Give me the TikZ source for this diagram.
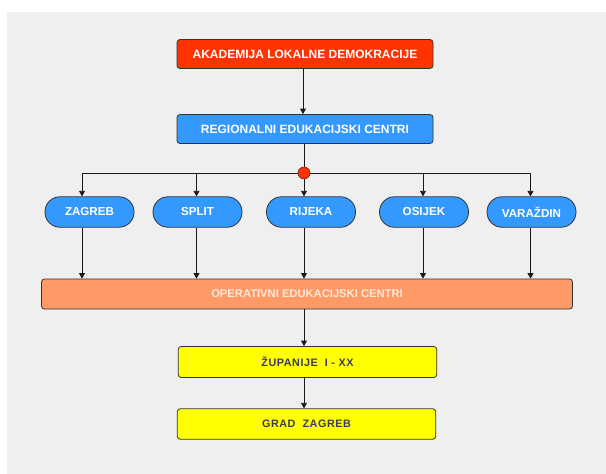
\documentclass[tikz,border=0pt]{standalone}
\usepackage{fontspec}
\setmainfont{Liberation Sans}
\usetikzlibrary{arrows.meta}
\definecolor{bggrey}{HTML}{EFEFEF}
\definecolor{redbox}{HTML}{FF3300}
\definecolor{bluebox}{HTML}{3399FF}
\definecolor{orangebox}{HTML}{FF9966}
\definecolor{yellowbox}{HTML}{FFFF00}
\definecolor{edge}{HTML}{333333}
\definecolor{ytext}{HTML}{3A3A5C}
\definecolor{otext}{HTML}{FFEADC}
\tikzset{
  box/.style={draw=edge, line width=0.8pt, rounded corners=3pt, inner sep=0pt,
    font=\fontsize{12}{14}\selectfont\bfseries, text=white},
  pill/.style={draw=edge, line width=0.8pt, rounded corners=15pt, fill=bluebox,
    minimum width=89pt, minimum height=30.5pt, inner sep=0pt,
    font=\fontsize{11.6}{14}\selectfont\bfseries, text=white},
  ybox/.style={box, fill=yellowbox, minimum width=258.5pt, minimum height=31pt,
    text=ytext, font=\fontsize{10.8}{14}\selectfont\bfseries\addfontfeature{LetterSpace=5}},
  conn/.style={draw=black!90, line width=0.8pt},
  arr/.style={conn, -{Triangle[width=6pt,length=5.5pt]}}
}
\begin{document}
\begin{tikzpicture}[x=1pt,y=-1pt]
\useasboundingbox (0,0) rectangle (606,474);
\fill[white] (0,0) rectangle (606,474);
\fill[bggrey] (7,12) rectangle (606,474);

\node[box, fill=redbox, minimum width=256pt, minimum height=29pt] (ald) at (305,54) {AKADEMIJA LOKALNE DEMOKRACIJE};
\node[box, fill=bluebox, minimum width=256pt, minimum height=29pt] (rec) at (305,129) {REGIONALNI EDUKACIJSKI CENTRI};

\node[pill] (zg) at (89.5,212) {ZAGREB};
\node[pill] (st) at (197.5,212) {SPLIT};
\node[pill] (ri) at (311,212) {RIJEKA};
\node[pill] (os) at (424,212) {OSIJEK};
\node[pill] (vz) at (531.5,212) {VARAŽDIN};

\node[box, fill=orangebox, minimum width=531pt, minimum height=30pt, text=otext,
  font=\fontsize{11.2}{14}\selectfont\bfseries] (oec) at (307,294) {OPERATIVNI EDUKACIJSKI CENTRI};

\node[ybox] (zup) at (307.5,362) {ŽUPANIJE\ \ I - XX};
\node[ybox, minimum height=30.5pt] (grad) at (306.5,424) {GRAD\ \ ZAGREB};

% branch line
\coordinate (b1) at (82,173);
\coordinate (b2) at (196.5,173);
\coordinate (b3) at (304,173);
\coordinate (b4) at (423,173);
\coordinate (b5) at (530.5,173);
\draw[conn] (b1) -- (b5);

\draw[arr] (ald.south -| 303,0) -- (rec.north -| 303,0);
\draw[conn] (rec.south -| b3) -- (b3);

\draw[arr] (b1) -- (b1 |- zg.north);
\draw[arr] (b2) -- (b2 |- st.north);
\draw[arr] (b3) -- (b3 |- ri.north);
\draw[arr] (b4) -- (b4 |- os.north);
\draw[arr] (b5) -- (b5 |- vz.north);

\node[circle, draw=edge!70!red, line width=0.6pt, fill=redbox, minimum size=12pt, inner sep=0pt] (dot) at (b3) {};

\draw[arr] (b1 |- zg.south) -- (b1 |- oec.north);
\draw[arr] (b2 |- st.south) -- (b2 |- oec.north);
\draw[arr] (b3 |- ri.south) -- (b3 |- oec.north);
\draw[arr] (b4 |- os.south) -- (b4 |- oec.north);
\draw[arr] (b5 |- vz.south) -- (b5 |- oec.north);

\draw[arr] (oec.south -| b3) -- (zup.north -| b3);
\draw[arr] (zup.south -| b3) -- (grad.north -| b3);
\end{tikzpicture}
\end{document}
